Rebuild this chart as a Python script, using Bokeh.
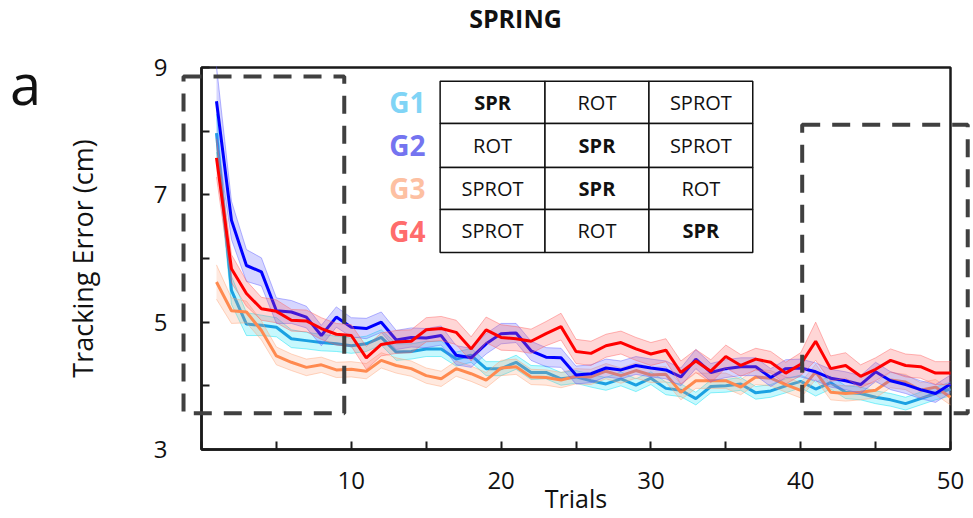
from bokeh.plotting import figure
from bokeh.models import FixedTicker, BoxAnnotation, Label, ColumnDataSource, Range1d
from bokeh.core.properties import value
from bokeh.embed import file_html
from bokeh.resources import INLINE

# ---------------- data ----------------
trials = list(range(1, 51))

g1_mean = [7.97, 5.50, 4.97, 4.95, 4.92, 4.74, 4.71, 4.68, 4.66, 4.63,
           4.66, 4.76, 4.53, 4.54, 4.58, 4.58, 4.42, 4.48, 4.27, 4.27,
           4.37, 4.21, 4.21, 4.11, 4.14, 4.08, 4.03, 4.11, 4.01, 4.12,
           3.96, 3.93, 3.80, 3.99, 4.00, 4.03, 3.89, 3.92, 4.00, 4.07,
           3.95, 4.05, 3.90, 3.88, 3.82, 3.78, 3.72, 3.80, 3.88, 3.95]
g1_sem = [0.30, 0.22, 0.18, 0.16, 0.15, 0.14, 0.13, 0.13, 0.12, 0.12,
          0.12, 0.12, 0.13, 0.12, 0.12, 0.12, 0.11, 0.11, 0.11, 0.11,
          0.11, 0.11, 0.10, 0.10, 0.10, 0.10, 0.10, 0.11, 0.10, 0.10,
          0.10, 0.10, 0.10, 0.10, 0.10, 0.10, 0.10, 0.10, 0.11, 0.10,
          0.11, 0.10, 0.10, 0.10, 0.10, 0.10, 0.10, 0.10, 0.10, 0.11]

g2_mean = [8.47, 6.60, 5.89, 5.79, 5.18, 5.16, 5.08, 4.79, 5.08, 4.92,
           4.90, 5.00, 4.72, 4.76, 4.75, 4.79, 4.48, 4.44, 4.66, 4.82,
           4.83, 4.55, 4.45, 4.44, 4.17, 4.19, 4.28, 4.25, 4.32, 4.28,
           4.25, 4.14, 4.42, 4.21, 4.27, 4.30, 4.30, 4.13, 4.27, 4.28,
           4.22, 4.12, 4.08, 4.02, 4.22, 4.08, 4.02, 3.94, 3.88, 4.03]
g2_sem = [0.55, 0.30, 0.25, 0.22, 0.20, 0.18, 0.17, 0.16, 0.16, 0.15,
          0.16, 0.16, 0.15, 0.15, 0.15, 0.15, 0.15, 0.15, 0.16, 0.16,
          0.15, 0.15, 0.15, 0.15, 0.14, 0.14, 0.14, 0.14, 0.14, 0.14,
          0.14, 0.14, 0.15, 0.14, 0.14, 0.14, 0.14, 0.14, 0.14, 0.14,
          0.14, 0.14, 0.14, 0.14, 0.15, 0.14, 0.14, 0.14, 0.14, 0.14]

g3_mean = [5.63, 5.18, 5.16, 4.87, 4.47, 4.37, 4.29, 4.33, 4.25, 4.26,
           4.23, 4.40, 4.32, 4.27, 4.16, 4.11, 4.27, 4.19, 4.09, 4.28,
           4.30, 4.14, 4.13, 4.09, 4.15, 4.14, 4.23, 4.16, 4.24, 4.17,
           4.18, 3.90, 4.08, 4.08, 4.08, 3.98, 4.14, 4.12, 4.02, 3.93,
           4.22, 3.90, 3.88, 3.90, 3.93, 4.09, 4.06, 3.93, 3.98, 3.82]
g3_sem = [0.27, 0.20, 0.17, 0.15, 0.14, 0.13, 0.13, 0.12, 0.12, 0.12,
          0.12, 0.12, 0.12, 0.12, 0.12, 0.12, 0.12, 0.12, 0.12, 0.12,
          0.12, 0.12, 0.12, 0.12, 0.12, 0.12, 0.12, 0.12, 0.12, 0.12,
          0.12, 0.12, 0.12, 0.12, 0.12, 0.12, 0.12, 0.12, 0.12, 0.12,
          0.12, 0.12, 0.12, 0.12, 0.12, 0.12, 0.12, 0.12, 0.12, 0.12]

g4_mean = [7.58, 5.84, 5.45, 5.21, 5.17, 5.03, 5.02, 4.90, 4.81, 4.79,
           4.44, 4.65, 4.69, 4.70, 4.88, 4.90, 4.84, 4.58, 4.88, 4.76,
           4.74, 4.70, 4.82, 4.93, 4.54, 4.51, 4.63, 4.68, 4.58, 4.50,
           4.56, 4.21, 4.39, 4.23, 4.46, 4.32, 4.42, 4.37, 4.20, 4.34,
           4.70, 4.27, 4.32, 4.15, 4.26, 4.40, 4.32, 4.30, 4.20, 4.20]
g4_sem = [0.30, 0.22, 0.20, 0.18, 0.18, 0.17, 0.17, 0.17, 0.17, 0.17,
          0.18, 0.18, 0.18, 0.18, 0.19, 0.19, 0.19, 0.19, 0.20, 0.20,
          0.19, 0.19, 0.19, 0.21, 0.19, 0.19, 0.18, 0.18, 0.18, 0.18,
          0.18, 0.18, 0.18, 0.18, 0.18, 0.17, 0.17, 0.17, 0.17, 0.18,
          0.30, 0.20, 0.20, 0.18, 0.18, 0.18, 0.18, 0.18, 0.18, 0.18]

group_names = ["G1", "G2", "G3", "G4"]
table_rows = [["SPR", "ROT", "SPROT"],
              ["ROT", "SPR", "SPROT"],
              ["SPROT", "SPR", "ROT"],
              ["SPROT", "ROT", "SPR"]]

y_ticks = [3, 4, 5, 6, 7, 8, 9]
y_tick_labels = ["3", "", "5", "", "7", "", "9"]
x_ticks = [0, 5, 10, 15, 20, 25, 30, 35, 40, 45, 50]
x_tick_labels = ["", "", "10", "", "20", "", "30", "", "40", "", "50"]

# ---------------- styles / layout ----------------
FONT = "Open Sans"
line_colors = {"G1": "#1ba1e2", "G2": "#0000ff", "G3": "#ff8a50", "G4": "#ff0000"}
band_colors = {"G1": "#00e1f5", "G2": "#6060ff", "G3": "#ffa478", "G4": "#ff6060"}
band_alpha = {"G1": 0.22, "G2": 0.26, "G3": 0.24, "G4": 0.26}
label_colors = {"G1": "#80d4f6", "G2": "#7474f0", "G3": "#fdc0a2", "G4": "#ff6c6c"}

W, H = 973, 518
FL, FR, FT, FB = 201, 950, 67, 449          # axes box in pixels
XMIN, XMAX, YMIN, YMAX = 0, 50, 3, 9
kx = (FR - FL) / (XMAX - XMIN)
ky = (FB - FT) / (YMAX - YMIN)
x_range = Range1d(XMIN - FL / kx, XMIN + (W - FL) / kx)
y_range = Range1d(YMIN - (H - FB) / ky, YMAX + FT / ky)

p = figure(width=W, height=H, x_range=x_range, y_range=y_range, title=None,
           output_backend="svg", toolbar_location=None,
           min_border_left=0, min_border_right=0, min_border_top=0, min_border_bottom=0)
p.background_fill_color = "white"
p.border_fill_color = "white"
p.grid.visible = False
p.outline_line_color = None

for ax in (p.xaxis[0], p.yaxis[0]):
    ax.axis_line_width = 2.5
    ax.axis_line_color = "#1a1a1a"
    ax.major_tick_in = 8
    ax.major_tick_out = 0
    ax.major_tick_line_width = 2
    ax.major_tick_line_color = "#1a1a1a"
    ax.minor_tick_line_color = None
    ax.major_label_text_font = FONT
    ax.major_label_text_font_size = "24px"
    ax.major_label_text_color = "#111111"
    ax.axis_label_text_font = FONT
    ax.axis_label_text_font_size = "27px"
    ax.axis_label_text_font_style = "normal"
    ax.axis_label_text_color = "#111111"

p.xaxis.fixed_location = YMIN
p.xaxis.bounds = (XMIN, XMAX)
p.xaxis.ticker = FixedTicker(ticks=x_ticks)
p.xaxis.major_label_overrides = {t: l for t, l in zip(x_ticks, x_tick_labels)}
p.xaxis.axis_label = "Trials"
p.xaxis.axis_label_text_font_size = "25px"
p.xaxis.major_label_standoff = 22
p.xaxis.axis_label_standoff = -11

p.yaxis.fixed_location = XMIN
p.yaxis.bounds = (YMIN, YMAX)
p.yaxis.ticker = FixedTicker(ticks=y_ticks)
p.yaxis.major_label_overrides = {t: l for t, l in zip(y_ticks, y_tick_labels)}
p.yaxis.axis_label = "Tracking Error (cm)"
p.yaxis.major_label_standoff = 34
p.yaxis.axis_label_standoff = 50
p.yaxis.major_label_orientation = "horizontal"

# top and right edges of the axes box
p.quad(left=[XMIN], right=[XMAX], bottom=[YMIN], top=[YMAX], fill_color=None,
       line_color="#1a1a1a", line_width=2.5)

series = {"G1": (g1_mean, g1_sem), "G2": (g2_mean, g2_sem),
          "G3": (g3_mean, g3_sem), "G4": (g4_mean, g4_sem)}

for g in ["G1", "G3", "G2", "G4"]:
    m, s = series[g]
    src = ColumnDataSource(dict(x=trials, m=m,
                                lo=[a - b for a, b in zip(m, s)],
                                hi=[a + b for a, b in zip(m, s)]))
    p.varea(x="x", y1="lo", y2="hi", source=src, fill_color=band_colors[g],
            fill_alpha=band_alpha[g])
    p.line(x="x", y="lo", source=src, line_color=band_colors[g], line_alpha=0.45, line_width=1)
    p.line(x="x", y="hi", source=src, line_color=band_colors[g], line_alpha=0.45, line_width=1)
    p.line(x="x", y="m", source=src, line_color=line_colors[g], line_width=3)

# dashed boxes
for l, r, t, b in [(-1.2, 9.53, 8.86, 3.57), (40.1, 51.15, 8.10, 3.57)]:
    p.add_layout(BoxAnnotation(left=l, right=r, top=t, bottom=b,
                               fill_alpha=0, line_color="#404040",
                               line_width=4, line_dash="18 12", line_alpha=1))

# table
tbl_x = [15.93, 22.93, 29.87, 36.80]
tbl_y = [8.785, 8.12, 7.43, 6.77, 6.096]
cl, cr, ct, cb = [], [], [], []
tx, ty, tt, ts = [], [], [], []
for i, row in enumerate(table_rows):
    for j, cell in enumerate(row):
        cl.append(tbl_x[j]); cr.append(tbl_x[j + 1])
        ct.append(tbl_y[i]); cb.append(tbl_y[i + 1])
        tx.append((tbl_x[j] + tbl_x[j + 1]) / 2)
        ty.append((tbl_y[i] + tbl_y[i + 1]) / 2)
        tt.append(cell)
        ts.append("bold" if cell == "SPR" else "normal")
p.quad(left=cl, right=cr, top=ct, bottom=cb, fill_color="white",
       line_color="#111111", line_width=1.5)
p.text(x=tx, y=ty, text=tt, text_font=value(FONT), text_font_size=value("20px"),
       text_font_style=ts, text_align="center", text_baseline="middle",
       text_color="#111111")

gy = [(tbl_y[i] + tbl_y[i + 1]) / 2 for i in range(4)]
p.text(x=[13.75] * 4, y=gy, text=group_names,
       text_color=[label_colors[g] for g in group_names],
       text_font=value(FONT), text_font_size=value("28px"),
       text_font_style=value("bold"), text_align="center", text_baseline="middle")

p.add_layout(Label(x=20.96, y=9.77, text="SPRING", text_font=FONT,
                   text_font_size="25px", text_font_style="bold",
                   text_align="center", text_baseline="middle", text_color="#111111"))
p.add_layout(Label(x=-11.75, y=8.75, text="a", text_font=FONT,
                   text_font_size="56px", text_align="center",
                   text_baseline="middle", text_color="#111111"))

open("out.html", "w").write(file_html(p, INLINE))
